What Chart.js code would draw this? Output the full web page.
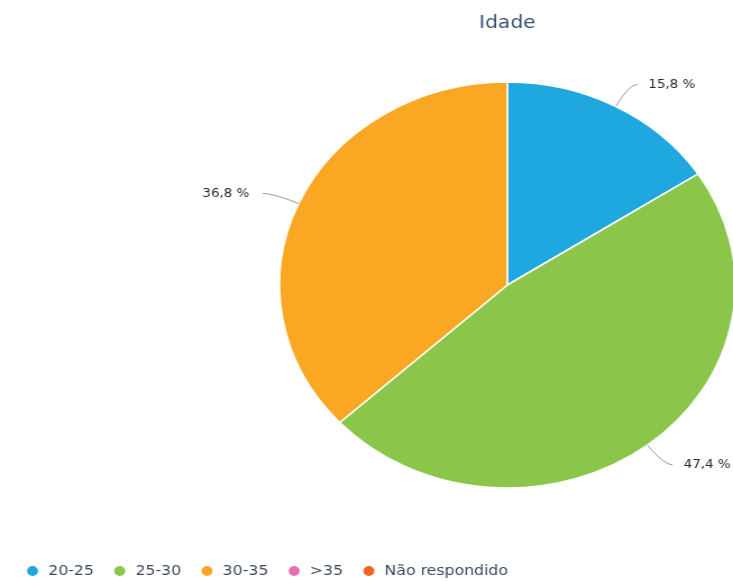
<!DOCTYPE html>
<html>
<head>
<meta charset="utf-8">
<script src="https://cdn.jsdelivr.net/npm/chart.js@4.4.0/dist/chart.umd.min.js"></script>
<style>
  html, body { margin: 0; padding: 0; overflow: hidden; background: #fff; }
  /* the reference is stretched horizontally, so stretch the whole chart */
  #wrap { width: 653px; height: 588px; transform: scaleX(1.1225); transform-origin: 0 0; }
</style>
</head>
<body>
<div id="wrap"><canvas id="chart" width="653" height="588"></canvas></div>
<script>
const chartTitle = 'Idade';
const categories = ['20-25', '25-30', '30-35', '>35', 'Não respondido'];
const responses = [3, 9, 7, 0, 0];
const sliceColors = ['#1fa8df', '#8bc64a', '#faa823', '#e86fae', '#f26522'];

// where the pie sits (canvas px, before the stretch)
const PIE_CX = 452;
const PIE_CY = 285;
const PIE_R = 203;

const pieArea = {
    id: 'pieArea',
    afterLayout(chart) {
        const a = chart.chartArea;
        a.left = PIE_CX - PIE_R;
        a.right = PIE_CX + PIE_R;
        a.top = PIE_CY - PIE_R;
        a.bottom = PIE_CY + PIE_R;
        a.width = a.right - a.left;
        a.height = a.bottom - a.top;
        if (chart.titleBlock) {
            chart.titleBlock.left = PIE_CX - 200;
            chart.titleBlock.right = PIE_CX + 200;
        }
    }
};

const outerLabels = {
    id: 'outerLabels',
    afterDatasetsDraw(chart) {
        const ctx = chart.ctx;
        const meta = chart.getDatasetMeta(0);
        const values = chart.data.datasets[0].data;
        const total = values.reduce((s, v) => s + v, 0);
        ctx.save();
        ctx.font = '12px "DejaVu Sans"';
        ctx.textBaseline = 'middle';
        meta.data.forEach((arc, i) => {
            if (!values[i]) return;
            const { x, y, startAngle, endAngle, outerRadius } = arc.getProps(['x', 'y', 'startAngle', 'endAngle', 'outerRadius'], true);
            const mid = (startAngle + endAngle) / 2;
            const cos = Math.cos(mid), sin = Math.sin(mid);
            const right = cos >= 0;
            const x0 = x + outerRadius * cos, y0 = y + outerRadius * sin;
            const ax = x + (outerRadius + 25) * cos, ay = y + (outerRadius + 25) * sin;
            const ex = ax + (right ? 7 : -9);
            ctx.strokeStyle = '#9a9a9a';
            ctx.lineWidth = 1;
            ctx.beginPath();
            ctx.moveTo(x0, y0);
            ctx.quadraticCurveTo(ax, ay, ex, ay);
            ctx.stroke();
            const pct = (values[i] / total * 100).toFixed(1).replace('.', ',') + ' %';
            ctx.fillStyle = '#2a2a2a';
            ctx.textAlign = right ? 'left' : 'right';
            ctx.fillText(pct, ex + (right ? 10 : -12), ay);
        });
        ctx.restore();
    }
};

new Chart(document.getElementById('chart'), {
    type: 'pie',
    data: {
        labels: categories,
        datasets: [{
            data: responses,
            backgroundColor: sliceColors,
            borderColor: '#fff',
            borderWidth: 1.5,
            radius: PIE_R,
            clip: false
        }]
    },
    options: {
        responsive: false,
        devicePixelRatio: 1,
        animation: false,
        layout: { padding: { left: 6 } },
        plugins: {
            title: {
                display: true,
                text: chartTitle,
                color: '#3a5270',
                font: { family: 'DejaVu Sans', size: 18, weight: 'normal' },
                padding: { top: 13, bottom: 0 }
            },
            legend: {
                position: 'bottom',
                align: 'start',
                labels: {
                    usePointStyle: true,
                    pointStyle: 'circle',
                    boxWidth: 14,
                    boxHeight: 8,
                    padding: 16,
                    color: '#3c4b5f',
                    font: { family: 'DejaVu Sans', size: 14 }
                }
            },
            tooltip: { enabled: false }
        }
    },
    plugins: [pieArea, outerLabels]
});
</script>
</body>
</html>
